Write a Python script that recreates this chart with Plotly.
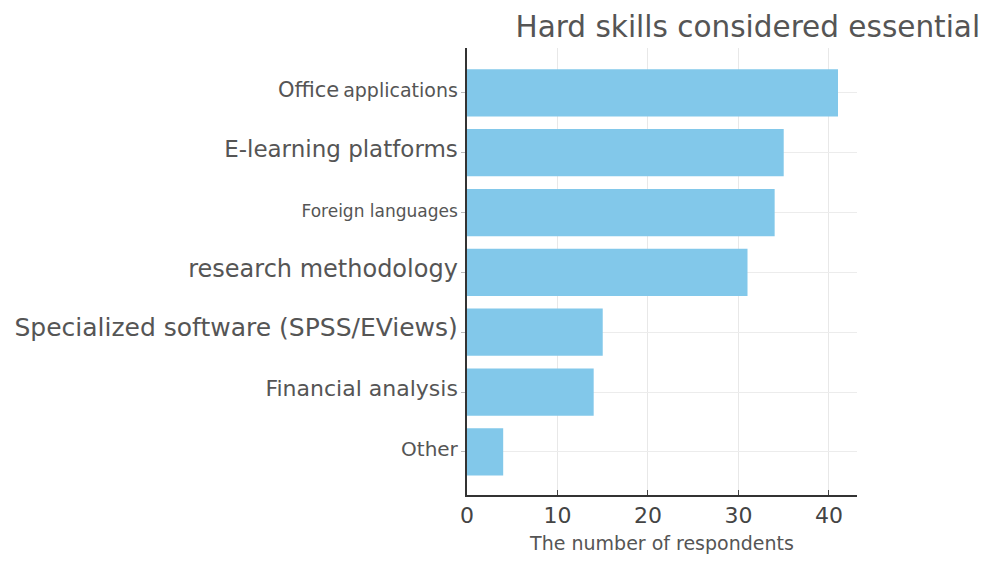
import plotly.graph_objects as go

categories = ["Office applications", "E-learning platforms", "Foreign languages",
              "research methodology", "Specialized software (SPSS/EViews)",
              "Financial analysis", "Other"]
values = [41, 35, 34, 31, 15, 14, 4]
label_sizes = [20, 23, 17, 24, 25, 22, 20]
x_ticks = [0, 10, 20, 30, 40]

ticktext = [f'<span style="font-size:{s}px">{c}</span>' for c, s in zip(categories, label_sizes)]
ticktext[0] = '<span style="font-size:21px">Office</span> <span style="font-size:19px">applications</span>'

fig = go.Figure(go.Bar(
    x=values[::-1], y=categories[::-1], orientation="h",
    marker=dict(color="#82c8ea", line=dict(width=0)),
    width=0.79,
))

fig.update_layout(
    width=979, height=546,
    margin=dict(l=459, r=130, t=40, b=59, autoexpand=False),
    plot_bgcolor="white", paper_bgcolor="white",
    font=dict(family="DejaVu Sans, sans-serif", color="#555"),
    title=dict(text="Hard skills considered essential", x=0.993, xanchor="right",
               xref="container", y=0.985, yanchor="top",
               font=dict(size=29.5, color="#555")),
    showlegend=False,
)
fig.update_xaxes(
    range=[0, 43.1], tickvals=x_ticks, ticks="inside", ticklen=5, tickcolor="#444",
    showline=True, linecolor="#333", linewidth=1.5, automargin=False,
    showgrid=True, gridcolor="#e8e8e8", zeroline=False,
    tickfont=dict(size=22, color="#444"),
    title=dict(text="The number of respondents", font=dict(size=19, color="#555"), standoff=16),
)
fig.update_yaxes(
    categoryorder="array", categoryarray=categories[::-1],
    tickvals=categories[::-1], ticktext=ticktext[::-1], automargin=False,
    range=[-0.72, 6.75], ticks="outside", ticklen=4, tickcolor="#bbb",
    showline=True, linecolor="#333", linewidth=1.5,
    showgrid=True, gridcolor="#ececec", zeroline=False,
    tickfont=dict(color="#555"), ticklabelstandoff=1,
)

fig.write_html("out.html")
